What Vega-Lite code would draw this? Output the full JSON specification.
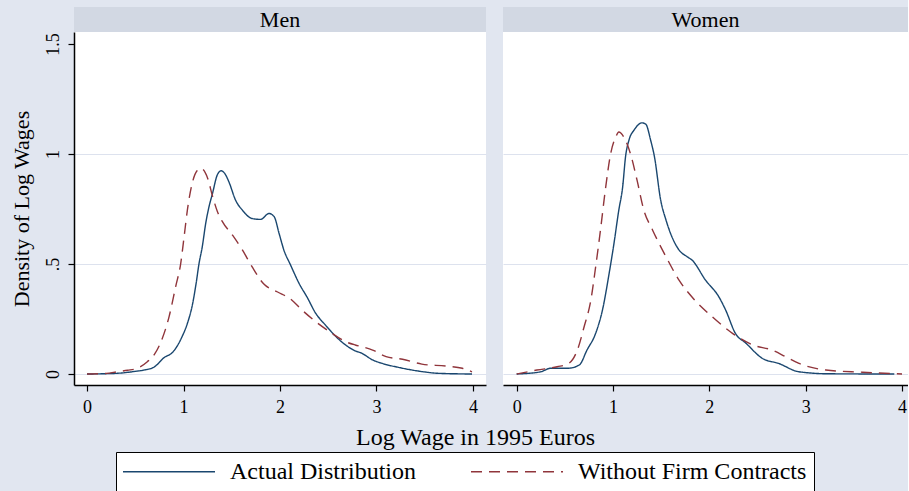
{
  "$schema": "https://vega.github.io/schema/vega-lite/v6.json",
  "padding": {"left": 10, "top": 7, "right": 0, "bottom": 0},
  "background": "#e1e6f0",
  "config": {
    "view": {"stroke": null},
    "font": "Liberation Serif",
    "axis": {
      "labelFont": "Liberation Serif",
      "titleFont": "Liberation Serif",
      "labelColor": "black",
      "titleColor": "black",
      "titleFontWeight": "normal",
      "domainColor": "black",
      "tickColor": "black",
      "labelFontSize": 18,
      "gridColor": "#dde2ee",
      "gridWidth": 1
    },
    "legend": {
      "direction": "horizontal",
      "fillColor": "white",
      "strokeColor": "black",
      "padding": 7,
      "labelFont": "Liberation Serif",
      "labelFontSize": 24,
      "labelColor": "black",
      "labelLimit": 0,
      "symbolType": "M-4,0H4",
      "symbolSize": 529,
      "symbolStrokeWidth": 1.5,
      "symbolOffset": 33.5,
      "labelOffset": 48.5,
      "columnPadding": 52
    }
  },
  "datasets": {
    "panels": [{"panel": "Men"}, {"panel": "Women"}],
    "curves": [
      {"sex": "Men", "series": "Actual Distribution", "v": 0, "d": 0},
      {"sex": "Men", "series": "Actual Distribution", "v": 0.3, "d": 0.003},
      {"sex": "Men", "series": "Actual Distribution", "v": 0.5, "d": 0.012},
      {"sex": "Men", "series": "Actual Distribution", "v": 0.59, "d": 0.018},
      {"sex": "Men", "series": "Actual Distribution", "v": 0.69, "d": 0.03},
      {"sex": "Men", "series": "Actual Distribution", "v": 0.8, "d": 0.075},
      {"sex": "Men", "series": "Actual Distribution", "v": 0.89, "d": 0.1},
      {"sex": "Men", "series": "Actual Distribution", "v": 0.98, "d": 0.165},
      {"sex": "Men", "series": "Actual Distribution", "v": 1.04, "d": 0.23},
      {"sex": "Men", "series": "Actual Distribution", "v": 1.09, "d": 0.31},
      {"sex": "Men", "series": "Actual Distribution", "v": 1.13, "d": 0.41},
      {"sex": "Men", "series": "Actual Distribution", "v": 1.16, "d": 0.5},
      {"sex": "Men", "series": "Actual Distribution", "v": 1.195, "d": 0.58},
      {"sex": "Men", "series": "Actual Distribution", "v": 1.23, "d": 0.685},
      {"sex": "Men", "series": "Actual Distribution", "v": 1.264, "d": 0.76},
      {"sex": "Men", "series": "Actual Distribution", "v": 1.3, "d": 0.82},
      {"sex": "Men", "series": "Actual Distribution", "v": 1.35, "d": 0.905},
      {"sex": "Men", "series": "Actual Distribution", "v": 1.39, "d": 0.924},
      {"sex": "Men", "series": "Actual Distribution", "v": 1.43, "d": 0.91},
      {"sex": "Men", "series": "Actual Distribution", "v": 1.47, "d": 0.874},
      {"sex": "Men", "series": "Actual Distribution", "v": 1.54, "d": 0.79},
      {"sex": "Men", "series": "Actual Distribution", "v": 1.61, "d": 0.745},
      {"sex": "Men", "series": "Actual Distribution", "v": 1.71, "d": 0.707},
      {"sex": "Men", "series": "Actual Distribution", "v": 1.8, "d": 0.703},
      {"sex": "Men", "series": "Actual Distribution", "v": 1.886, "d": 0.73},
      {"sex": "Men", "series": "Actual Distribution", "v": 1.94, "d": 0.715},
      {"sex": "Men", "series": "Actual Distribution", "v": 1.99, "d": 0.64},
      {"sex": "Men", "series": "Actual Distribution", "v": 2.04, "d": 0.564},
      {"sex": "Men", "series": "Actual Distribution", "v": 2.11, "d": 0.495},
      {"sex": "Men", "series": "Actual Distribution", "v": 2.2, "d": 0.41},
      {"sex": "Men", "series": "Actual Distribution", "v": 2.28, "d": 0.35},
      {"sex": "Men", "series": "Actual Distribution", "v": 2.37, "d": 0.276},
      {"sex": "Men", "series": "Actual Distribution", "v": 2.47, "d": 0.223},
      {"sex": "Men", "series": "Actual Distribution", "v": 2.58, "d": 0.17},
      {"sex": "Men", "series": "Actual Distribution", "v": 2.68, "d": 0.132},
      {"sex": "Men", "series": "Actual Distribution", "v": 2.78, "d": 0.105},
      {"sex": "Men", "series": "Actual Distribution", "v": 2.84, "d": 0.096},
      {"sex": "Men", "series": "Actual Distribution", "v": 2.96, "d": 0.064},
      {"sex": "Men", "series": "Actual Distribution", "v": 3.06, "d": 0.048},
      {"sex": "Men", "series": "Actual Distribution", "v": 3.23, "d": 0.03},
      {"sex": "Men", "series": "Actual Distribution", "v": 3.41, "d": 0.015},
      {"sex": "Men", "series": "Actual Distribution", "v": 3.65, "d": 0.003},
      {"sex": "Men", "series": "Actual Distribution", "v": 3.99, "d": 0},
      {"sex": "Men", "series": "Without Firm Contracts", "v": 0, "d": 0},
      {"sex": "Men", "series": "Without Firm Contracts", "v": 0.2, "d": 0.003},
      {"sex": "Men", "series": "Without Firm Contracts", "v": 0.31, "d": 0.01},
      {"sex": "Men", "series": "Without Firm Contracts", "v": 0.42, "d": 0.017},
      {"sex": "Men", "series": "Without Firm Contracts", "v": 0.52, "d": 0.026},
      {"sex": "Men", "series": "Without Firm Contracts", "v": 0.625, "d": 0.056},
      {"sex": "Men", "series": "Without Firm Contracts", "v": 0.7, "d": 0.09},
      {"sex": "Men", "series": "Without Firm Contracts", "v": 0.76, "d": 0.14},
      {"sex": "Men", "series": "Without Firm Contracts", "v": 0.85, "d": 0.26},
      {"sex": "Men", "series": "Without Firm Contracts", "v": 0.92, "d": 0.4},
      {"sex": "Men", "series": "Without Firm Contracts", "v": 0.97, "d": 0.5},
      {"sex": "Men", "series": "Without Firm Contracts", "v": 1.005, "d": 0.62},
      {"sex": "Men", "series": "Without Firm Contracts", "v": 1.04, "d": 0.745},
      {"sex": "Men", "series": "Without Firm Contracts", "v": 1.09, "d": 0.867},
      {"sex": "Men", "series": "Without Firm Contracts", "v": 1.14, "d": 0.924},
      {"sex": "Men", "series": "Without Firm Contracts", "v": 1.18, "d": 0.935},
      {"sex": "Men", "series": "Without Firm Contracts", "v": 1.25, "d": 0.89},
      {"sex": "Men", "series": "Without Firm Contracts", "v": 1.3, "d": 0.81},
      {"sex": "Men", "series": "Without Firm Contracts", "v": 1.35, "d": 0.74},
      {"sex": "Men", "series": "Without Firm Contracts", "v": 1.4, "d": 0.695},
      {"sex": "Men", "series": "Without Firm Contracts", "v": 1.51, "d": 0.63},
      {"sex": "Men", "series": "Without Firm Contracts", "v": 1.61, "d": 0.564},
      {"sex": "Men", "series": "Without Firm Contracts", "v": 1.71, "d": 0.488},
      {"sex": "Men", "series": "Without Firm Contracts", "v": 1.83, "d": 0.41},
      {"sex": "Men", "series": "Without Firm Contracts", "v": 1.97, "d": 0.374},
      {"sex": "Men", "series": "Without Firm Contracts", "v": 2.1, "d": 0.344},
      {"sex": "Men", "series": "Without Firm Contracts", "v": 2.23, "d": 0.29},
      {"sex": "Men", "series": "Without Firm Contracts", "v": 2.37, "d": 0.238},
      {"sex": "Men", "series": "Without Firm Contracts", "v": 2.54, "d": 0.185},
      {"sex": "Men", "series": "Without Firm Contracts", "v": 2.68, "d": 0.147},
      {"sex": "Men", "series": "Without Firm Contracts", "v": 2.78, "d": 0.132},
      {"sex": "Men", "series": "Without Firm Contracts", "v": 2.85, "d": 0.124},
      {"sex": "Men", "series": "Without Firm Contracts", "v": 2.96, "d": 0.109},
      {"sex": "Men", "series": "Without Firm Contracts", "v": 3.1, "d": 0.079},
      {"sex": "Men", "series": "Without Firm Contracts", "v": 3.27, "d": 0.067},
      {"sex": "Men", "series": "Without Firm Contracts", "v": 3.47, "d": 0.045},
      {"sex": "Men", "series": "Without Firm Contracts", "v": 3.72, "d": 0.036},
      {"sex": "Men", "series": "Without Firm Contracts", "v": 3.89, "d": 0.026},
      {"sex": "Men", "series": "Without Firm Contracts", "v": 3.99, "d": 0.01},
      {"sex": "Women", "series": "Actual Distribution", "v": 0, "d": 0},
      {"sex": "Women", "series": "Actual Distribution", "v": 0.25, "d": 0.01},
      {"sex": "Women", "series": "Actual Distribution", "v": 0.35, "d": 0.026},
      {"sex": "Women", "series": "Actual Distribution", "v": 0.53, "d": 0.026},
      {"sex": "Women", "series": "Actual Distribution", "v": 0.65, "d": 0.041},
      {"sex": "Women", "series": "Actual Distribution", "v": 0.73, "d": 0.109},
      {"sex": "Women", "series": "Actual Distribution", "v": 0.82, "d": 0.185},
      {"sex": "Women", "series": "Actual Distribution", "v": 0.89, "d": 0.29},
      {"sex": "Women", "series": "Actual Distribution", "v": 0.96, "d": 0.458},
      {"sex": "Women", "series": "Actual Distribution", "v": 1.01, "d": 0.594},
      {"sex": "Women", "series": "Actual Distribution", "v": 1.06, "d": 0.745},
      {"sex": "Women", "series": "Actual Distribution", "v": 1.1, "d": 0.85},
      {"sex": "Women", "series": "Actual Distribution", "v": 1.13, "d": 0.988},
      {"sex": "Women", "series": "Actual Distribution", "v": 1.166, "d": 1.064},
      {"sex": "Women", "series": "Actual Distribution", "v": 1.22, "d": 1.11},
      {"sex": "Women", "series": "Actual Distribution", "v": 1.3, "d": 1.142},
      {"sex": "Women", "series": "Actual Distribution", "v": 1.34, "d": 1.136},
      {"sex": "Women", "series": "Actual Distribution", "v": 1.39, "d": 1.064},
      {"sex": "Women", "series": "Actual Distribution", "v": 1.43, "d": 0.988},
      {"sex": "Women", "series": "Actual Distribution", "v": 1.495, "d": 0.79},
      {"sex": "Women", "series": "Actual Distribution", "v": 1.55, "d": 0.7},
      {"sex": "Women", "series": "Actual Distribution", "v": 1.685, "d": 0.564},
      {"sex": "Women", "series": "Actual Distribution", "v": 1.77, "d": 0.533},
      {"sex": "Women", "series": "Actual Distribution", "v": 1.82, "d": 0.518},
      {"sex": "Women", "series": "Actual Distribution", "v": 1.96, "d": 0.427},
      {"sex": "Women", "series": "Actual Distribution", "v": 2.1, "d": 0.35},
      {"sex": "Women", "series": "Actual Distribution", "v": 2.17, "d": 0.29},
      {"sex": "Women", "series": "Actual Distribution", "v": 2.27, "d": 0.185},
      {"sex": "Women", "series": "Actual Distribution", "v": 2.38, "d": 0.14},
      {"sex": "Women", "series": "Actual Distribution", "v": 2.55, "d": 0.071},
      {"sex": "Women", "series": "Actual Distribution", "v": 2.72, "d": 0.048},
      {"sex": "Women", "series": "Actual Distribution", "v": 2.93, "d": 0.01},
      {"sex": "Women", "series": "Actual Distribution", "v": 3.24, "d": 0.001},
      {"sex": "Women", "series": "Actual Distribution", "v": 3.92, "d": 0},
      {"sex": "Women", "series": "Without Firm Contracts", "v": 0, "d": 0},
      {"sex": "Women", "series": "Without Firm Contracts", "v": 0.21, "d": 0.018},
      {"sex": "Women", "series": "Without Firm Contracts", "v": 0.42, "d": 0.033},
      {"sex": "Women", "series": "Without Firm Contracts", "v": 0.54, "d": 0.048},
      {"sex": "Women", "series": "Without Firm Contracts", "v": 0.63, "d": 0.109},
      {"sex": "Women", "series": "Without Firm Contracts", "v": 0.7, "d": 0.215},
      {"sex": "Women", "series": "Without Firm Contracts", "v": 0.77, "d": 0.336},
      {"sex": "Women", "series": "Without Firm Contracts", "v": 0.82, "d": 0.488},
      {"sex": "Women", "series": "Without Firm Contracts", "v": 0.87, "d": 0.655},
      {"sex": "Women", "series": "Without Firm Contracts", "v": 0.92, "d": 0.836},
      {"sex": "Women", "series": "Without Firm Contracts", "v": 0.976, "d": 1.003},
      {"sex": "Women", "series": "Without Firm Contracts", "v": 1.03, "d": 1.079},
      {"sex": "Women", "series": "Without Firm Contracts", "v": 1.06, "d": 1.1},
      {"sex": "Women", "series": "Without Firm Contracts", "v": 1.11, "d": 1.079},
      {"sex": "Women", "series": "Without Firm Contracts", "v": 1.18, "d": 1.003},
      {"sex": "Women", "series": "Without Firm Contracts", "v": 1.25, "d": 0.88},
      {"sex": "Women", "series": "Without Firm Contracts", "v": 1.32, "d": 0.745},
      {"sex": "Women", "series": "Without Firm Contracts", "v": 1.41, "d": 0.655},
      {"sex": "Women", "series": "Without Firm Contracts", "v": 1.55, "d": 0.533},
      {"sex": "Women", "series": "Without Firm Contracts", "v": 1.685, "d": 0.427},
      {"sex": "Women", "series": "Without Firm Contracts", "v": 1.82, "d": 0.35},
      {"sex": "Women", "series": "Without Firm Contracts", "v": 2.03, "d": 0.26},
      {"sex": "Women", "series": "Without Firm Contracts", "v": 2.24, "d": 0.185},
      {"sex": "Women", "series": "Without Firm Contracts", "v": 2.45, "d": 0.132},
      {"sex": "Women", "series": "Without Firm Contracts", "v": 2.65, "d": 0.109},
      {"sex": "Women", "series": "Without Firm Contracts", "v": 2.79, "d": 0.079},
      {"sex": "Women", "series": "Without Firm Contracts", "v": 2.93, "d": 0.048},
      {"sex": "Women", "series": "Without Firm Contracts", "v": 3.21, "d": 0.018},
      {"sex": "Women", "series": "Without Firm Contracts", "v": 3.59, "d": 0.008},
      {"sex": "Women", "series": "Without Firm Contracts", "v": 4.0, "d": 0}
    ]
  },
  "spacing": 0,
  "vconcat": [
    {
      "spacing": 17,
      "hconcat": [
        {
          "data": {"name": "panels"},
          "transform": [{"filter": "datum.panel == 'Men'"}],
          "width": 412,
          "height": 25,
          "view": {"fill": "#d2d8e3", "stroke": null},
          "mark": {"type": "text", "font": "Liberation Serif", "fontSize": 22, "color": "black", "baseline": "middle", "align": "center"},
          "encoding": {"text": {"field": "panel", "type": "nominal"}}
        },
        {
          "data": {"name": "panels"},
          "transform": [{"filter": "datum.panel == 'Women'"}],
          "width": 405,
          "height": 25,
          "view": {"fill": "#d2d8e3", "stroke": null},
          "mark": {"type": "text", "font": "Liberation Serif", "fontSize": 22, "color": "black", "baseline": "middle", "align": "center"},
          "encoding": {"text": {"field": "panel", "type": "nominal"}}
        }
      ]
    },
    {
      "spacing": 17,
      "bounds": "flush",
      "hconcat": [
        {
          "data": {"name": "curves"},
          "transform": [{"filter": "datum.sex == 'Men'"}],
          "width": 412,
          "height": 353,
          "view": {"fill": "white", "stroke": null},
          "mark": {"type": "line", "strokeWidth": 1.4, "interpolate": "monotone", "clip": true},
          "encoding": {
            "x": {
              "field": "v", "type": "quantitative",
              "scale": {"domain": [-0.135, 4.135], "nice": false, "zero": false},
              "axis": {"values": [0, 1, 2, 3, 4], "format": "d", "tickSize": 6, "tickWidth": 1.2, "labelPadding": 7, "domainWidth": 1.5, "grid": false,
                       "title": "Log Wage in 1995 Euros", "titleFontSize": 24, "titleX": 401, "titleAlign": "center", "titlePadding": 9}
            },
            "y": {
              "field": "d", "type": "quantitative",
              "scale": {"domain": [-0.05, 1.555], "nice": false, "zero": false},
              "axis": {"values": [0, 0.5, 1, 1.5], "format": "~g", "labelExpr": "datum.value == 0.5 ? '.5' : datum.label",
                       "labelAngle": -90, "tickSize": 6, "tickWidth": 1.2, "labelPadding": 6, "domainWidth": 1.5,
                       "grid": true, "gridOpacity": {"condition": {"test": "datum.value == 1.5", "value": 0}, "value": 1},
                       "title": "Density of Log Wages", "titleFontSize": 22, "titlePadding": 11}
            },
            "color": {
              "field": "series", "type": "nominal",
              "scale": {"domain": ["Actual Distribution", "Without Firm Contracts"], "range": ["#1a476f", "#90353b"]},
              "legend": {"title": null, "orient": "none", "legendX": 42, "legendY": 445}
            },
            "strokeDash": {
              "field": "series", "type": "nominal",
              "scale": {"domain": ["Actual Distribution", "Without Firm Contracts"], "range": [[1, 0], [11, 7]]},
              "legend": {"title": null, "orient": "none", "legendX": 42, "legendY": 445}
            }
          }
        },
        {
          "data": {"name": "curves"},
          "transform": [{"filter": "datum.sex == 'Women'"}],
          "width": 405,
          "height": 353,
          "view": {"fill": "white", "stroke": null},
          "mark": {"type": "line", "strokeWidth": 1.4, "interpolate": "monotone", "clip": true},
          "encoding": {
            "x": {
              "field": "v", "type": "quantitative",
              "scale": {"domain": [-0.142, 4.062], "nice": false, "zero": false},
              "axis": {"values": [0, 1, 2, 3, 4], "format": "d", "tickSize": 6, "tickWidth": 1.2, "labelPadding": 7, "domainWidth": 1.5, "grid": false, "title": null}
            },
            "y": {
              "field": "d", "type": "quantitative",
              "scale": {"domain": [-0.05, 1.555], "nice": false, "zero": false},
              "axis": {"values": [0, 0.5, 1, 1.5], "labels": false, "ticks": false, "domain": false, "title": null,
                       "grid": true, "gridOpacity": {"condition": {"test": "datum.value == 1.5", "value": 0}, "value": 1}}
            },
            "color": {
              "field": "series", "type": "nominal",
              "scale": {"domain": ["Actual Distribution", "Without Firm Contracts"], "range": ["#1a476f", "#90353b"]},
              "legend": {"title": null, "orient": "none", "legendX": 42, "legendY": 445}
            },
            "strokeDash": {
              "field": "series", "type": "nominal",
              "scale": {"domain": ["Actual Distribution", "Without Firm Contracts"], "range": [[1, 0], [11, 7]]},
              "legend": {"title": null, "orient": "none", "legendX": 42, "legendY": 445}
            }
          }
        }
      ]
    }
  ]
}
